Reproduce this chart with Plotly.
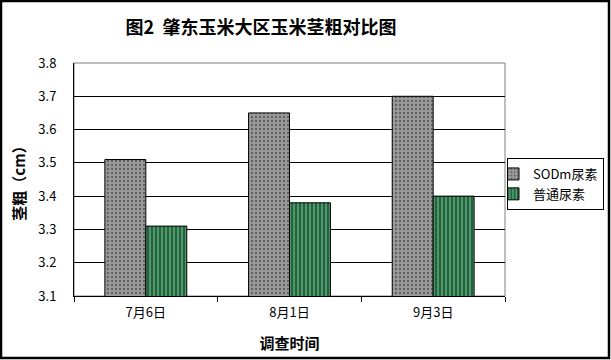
import plotly.graph_objects as go

categories = ["7月6日", "8月1日", "9月3日"]
sodm_values = [3.51, 3.65, 3.70]
normal_values = [3.31, 3.38, 3.40]
series_names = ["SODm尿素", "普通尿素"]
y_ticks = [3.1, 3.2, 3.3, 3.4, 3.5, 3.6, 3.7, 3.8]

W, H = 611, 360
L, R, T, B = 74, 505, 63, 296
FONT = "Noto Sans CJK SC"

def px_x(p):
    return (p - L) / (R - L)

def px_y(p):
    return (B - p) / (B - T)

fig = go.Figure()
fig.add_trace(go.Bar(
    x=categories, y=sodm_values, name=series_names[0],
    marker=dict(color="#9a9a9a", line=dict(color="black", width=1),
                pattern=dict(shape=".", fgcolor="#222222", bgcolor="#9a9a9a", size=4, solidity=0.25)),
))
fig.add_trace(go.Bar(
    x=categories, y=normal_values, name=series_names[1],
    marker=dict(color="#3f8f5f", line=dict(color="black", width=1),
                pattern=dict(shape="|", fgcolor="#0a2414", bgcolor="#4a9a6a", size=4, solidity=0.5)),
))

fig.update_layout(
    width=W, height=H,
    margin=dict(l=L, r=W - R, t=T, b=H - B, autoexpand=False),
    paper_bgcolor="white", plot_bgcolor="white",
    barmode="group", bargap=0.43, bargroupgap=0,
    font=dict(family=FONT, size=13, color="black"),
    showlegend=True,
    legend=dict(x=px_x(507), y=px_y(158), xanchor="left", yanchor="top",
                bordercolor="black", borderwidth=1, bgcolor="white",
                font=dict(family=FONT, size=13), tracegroupgap=0,
                itemwidth=30, indentation=-15),
    title=dict(text="<b>图2  肇东玉米大区玉米茎粗对比图</b>", x=261 / W, xanchor="center",
               y=1 - 28 / H, yanchor="middle", font=dict(family=FONT, size=18, color="black")),
)

fig.update_yaxes(
    range=[3.1, 3.8], tickvals=y_ticks, ticktext=[f"{v:.1f}" for v in y_ticks],
    showgrid=True, gridcolor="black", gridwidth=1,
    showline=True, linecolor="black", linewidth=1,
    ticks="", ticklabelstandoff=14,
    title=dict(text="<b>茎粗（cm）</b>", font=dict(family=FONT, size=15), standoff=9),
    zeroline=False,
)
fig.update_xaxes(
    showline=True, linecolor="black", linewidth=1,
    ticks="outside", tickson="boundaries", ticklen=5, tickcolor="black",
    ticklabelstandoff=4,
    title=dict(text="<b>调查时间</b>", font=dict(family=FONT, size=15), standoff=18),
    tickfont=dict(family=FONT, size=13),
)

# gray plot-area frame (top/right)
fig.add_shape(type="rect", xref="paper", yref="paper", x0=0, y0=0, x1=1, y1=1,
              line=dict(color="#808080", width=1), layer="below")
# outer black frame around the whole picture
fig.add_shape(type="rect", xref="paper", yref="paper",
              x0=px_x(1), x1=px_x(609), y0=px_y(358), y1=px_y(1),
              line=dict(color="black", width=2.5))

fig.write_html("out.html", config={"displayModeBar": False},
               post_script="document.body.style.margin='0';document.body.style.overflow='hidden';")
